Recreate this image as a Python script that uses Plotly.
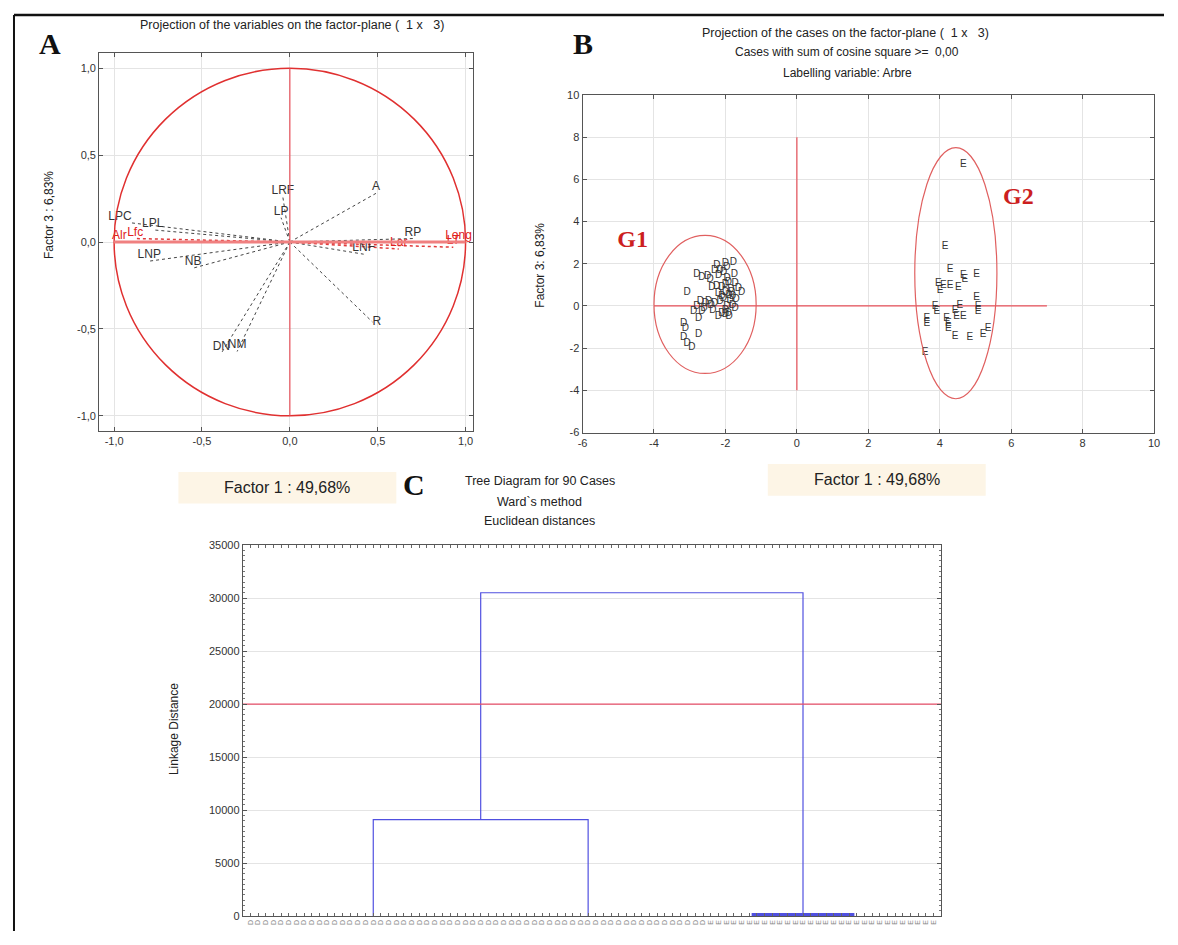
import plotly.graph_objects as go

# page body has an 8px margin, so the figure is sized to fit the window exactly
W, H = 1162, 929
OFF = 8

# ---------------- Panel A data (variable projections on factor plane 1x3) ----------------
var_names = ["A", "LRF", "LP", "LPC", "LPL", "LNP", "NB", "DN", "NM", "R", "RP", "LNF"]
var_f1 = [0.49, -0.04, -0.05, -0.90, -0.78, -0.80, -0.55, -0.39, -0.30, 0.47, 0.70, 0.42]
var_f3 = [0.28, 0.26, 0.14, 0.11, 0.07, -0.11, -0.15, -0.64, -0.63, -0.46, 0.02, -0.07]
var_pos = ["top center", "top center", "top center", "top left", "top center", "top center",
           "top center", "top center", "top center", "middle right", "top center", "top center"]

red_names = ["Alr", "Lfc", "Lar", "LT", "Long"]
red_f1 = [-0.97, -0.88, 0.62, 0.93, 0.96]
red_f3 = [0.00, 0.02, -0.04, -0.03, 0.00]

# ---------------- Panel B data (case projections) ----------------
D_f1 = [-3.07, -2.80, -2.66, -2.43, -2.24, -2.15, -1.96, -1.78, -2.19, -2.38, -2.10, -1.92,
        -1.73, -2.00, -1.83, -1.55, -1.64, -2.06, -1.87, -1.73, -1.96, -2.10, -1.92, -2.70,
        -2.56, -2.47, -2.80, -2.89, -2.66, -2.75, -3.17, -3.12, -2.75, -3.17, -3.07, -2.94,
        -2.00, -1.90, -2.20, -1.80, -2.00, -1.95, -2.30, -2.40, -2.60, -2.20, -1.85, -2.05,
        -1.70, -2.15, -1.90, -2.50, -2.30, -2.00, -1.75, -2.25, -2.10, -2.35, -2.00, -1.80]
D_f3 = [0.65, 1.51, 1.35, 1.27, 1.90, 1.66, 1.82, 2.05, 1.43, 0.89, 0.89, 1.12,
        1.04, 0.65, 0.65, 0.65, 0.81, 0.34, 0.26, -0.12, -0.05, -0.36, -0.36, 0.19,
        0.11, 0.19, -0.05, -0.28, -0.28, -0.59, -0.82, -1.06, -1.37, -1.52, -1.76, -1.99,
        1.00, 0.50, 0.60, 0.00, -0.20, 1.30, 0.10, 0.00, -0.10, -0.50, 0.80, 1.60,
        0.30, 0.20, -0.50, 1.40, 1.70, 2.00, 1.50, 0.90, 0.45, -0.20, -0.40, 0.45]
E_f1 = [4.66, 4.15, 4.29, 4.66, 5.03, 4.70, 3.96, 4.10, 4.29, 4.52, 4.01, 5.03, 3.87, 4.56, 5.07,
        3.92, 4.43, 5.07, 3.64, 4.19, 4.47, 4.66, 3.64, 4.24, 4.24, 5.35, 4.43, 4.84, 5.21, 3.59]
E_f3 = [6.71, 2.83, 1.74, 1.43, 1.51, 1.27, 1.04, 0.96, 0.96, 0.89, 0.73, 0.42, -0.05, 0.03, -0.05,
        -0.28, -0.20, -0.28, -0.59, -0.59, -0.51, -0.51, -0.82, -0.82, -1.06, -1.06, -1.45, -1.52, -1.37, -2.22]

group_names = ["G1", "G2"]
group_cx = [-2.57, 4.45]
group_cy = [0.07, 1.55]
group_rx = [1.43, 1.15]
group_ry = [3.27, 5.95]
group_label_f1 = [-4.6, 6.2]
group_label_f3 = [3.1, 5.1]

cross_h_f1 = [-4, 7]
cross_v_f3 = [-4, 8]

# ---------------- Panel C data (dendrogram) ----------------
n_cases = 90
leaf_labels = ["D"] * 60 + ["E"] * 30
link_left = [17, 31, 66.5]
link_right = [45, 73, 79.5]
link_left_h = [0, 9100, 0]
link_right_h = [0, 150, 0]
link_height = [9100, 30500, 150]
cut_height = 20000

fig = go.Figure()
FONT = "Liberation Sans, Arial, sans-serif"
SERIF = "Liberation Serif, Times New Roman, serif"


def PX(px):
    return (px - OFF) / W


def PY(py):
    return 1 - (py - OFF) / H


# ---- Panel A traces ----
for x, y in zip(var_f1, var_f3):
    fig.add_trace(go.Scatter(x=[0, x], y=[0, y], mode="lines", xaxis="x", yaxis="y",
                             line=dict(color="#444", width=1, dash="dot"),
                             showlegend=False, hoverinfo="skip"))
for x, y in zip(red_f1, red_f3):
    fig.add_trace(go.Scatter(x=[0, x], y=[0, y], mode="lines", xaxis="x", yaxis="y",
                             line=dict(color="#e03a3a", width=1.5, dash="dot"),
                             showlegend=False, hoverinfo="skip"))
fig.add_trace(go.Scatter(x=var_f1, y=var_f3, mode="text", text=var_names, textposition=var_pos,
                         xaxis="x", yaxis="y", textfont=dict(family=FONT, size=12, color="#333"),
                         showlegend=False, hoverinfo="skip"))
fig.add_trace(go.Scatter(x=red_f1, y=red_f3, mode="text", text=red_names, textposition="top center",
                         xaxis="x", yaxis="y", textfont=dict(family=FONT, size=12, color="#e02020"),
                         showlegend=False, hoverinfo="skip"))

# ---- Panel B traces ----
fig.add_trace(go.Scatter(x=cross_h_f1, y=[0, 0], mode="lines", xaxis="x2", yaxis="y2",
                         line=dict(color="#e8505a", width=1.2), showlegend=False, hoverinfo="skip"))
fig.add_trace(go.Scatter(x=[0, 0], y=cross_v_f3, mode="lines", xaxis="x2", yaxis="y2",
                         line=dict(color="#e8505a", width=1.2), showlegend=False, hoverinfo="skip"))
fig.add_trace(go.Scatter(x=D_f1, y=D_f3, mode="text", text=["D"] * len(D_f1), xaxis="x2", yaxis="y2",
                         textfont=dict(family=FONT, size=10, color="#333"), showlegend=False, hoverinfo="skip"))
fig.add_trace(go.Scatter(x=E_f1, y=E_f3, mode="text", text=["E"] * len(E_f1), xaxis="x2", yaxis="y2",
                         textfont=dict(family=FONT, size=10, color="#333"), showlegend=False, hoverinfo="skip"))
fig.add_trace(go.Scatter(x=group_label_f1, y=group_label_f3, mode="text", text=group_names,
                         xaxis="x2", yaxis="y2",
                         textfont=dict(family=SERIF, size=24, color="#cc1f1f", weight="bold"),
                         showlegend=False, hoverinfo="skip"))

# ---- Panel C traces ----
for l, r, hl, hr, h in zip(link_left, link_right, link_left_h, link_right_h, link_height):
    fig.add_trace(go.Scatter(x=[l, l, r, r], y=[hl, h, h, hr], mode="lines", xaxis="x3", yaxis="y3",
                             line=dict(color="#5050e0", width=1.2 if h > 1000 else 3),
                             showlegend=False, hoverinfo="skip"))
fig.add_trace(go.Scatter(x=[0, n_cases + 1], y=[cut_height, cut_height], mode="lines", xaxis="x3", yaxis="y3",
                         line=dict(color="#e8506a", width=1.2), showlegend=False, hoverinfo="skip"))

# ---- Shapes ----
shapes = []
shapes.append(dict(type="circle", xref="x", yref="y", x0=-1, y0=-1, x1=1, y1=1,
                   line=dict(color="#e03030", width=1.5)))
shapes.append(dict(type="line", xref="x", yref="y", x0=0, y0=-1, x1=0, y1=1,
                   line=dict(color="#e8505a", width=1.2)))
shapes.append(dict(type="line", xref="x", yref="y", x0=-1, y0=0, x1=1, y1=0,
                   line=dict(color="#f08080", width=3)))
for cx, cy, rx, ry in zip(group_cx, group_cy, group_rx, group_ry):
    shapes.append(dict(type="circle", xref="x2", yref="y2", x0=cx - rx, x1=cx + rx, y0=cy - ry, y1=cy + ry,
                       line=dict(color="#e06060", width=1.2)))
# outer frame of the figure
shapes.append(dict(type="line", xref="paper", yref="paper", x0=PX(9), x1=1, y0=PY(9), y1=PY(9),
                   line=dict(color="#111", width=2.5)))
shapes.append(dict(type="line", xref="paper", yref="paper", x0=PX(9), x1=PX(9), y0=0, y1=PY(9),
                   line=dict(color="#111", width=2)))
# Factor 1 label boxes
for cxp, cyp in [(285, 488), (880, 480)]:
    shapes.append(dict(type="rect", xref="paper", yref="paper", layer="below",
                       x0=PX(cxp - 110), x1=PX(cxp + 110), y0=PY(cyp + 16), y1=PY(cyp - 16),
                       fillcolor="#fdf5e6", line=dict(width=0)))

ann = []


def A(text, px, py, size=12, family=FONT, color="#222", angle=0, weight=None):
    f = dict(family=family, size=size, color=color)
    if weight:
        f["weight"] = weight
    ann.append(dict(text=text, x=PX(px), y=PY(py), xref="paper", yref="paper", showarrow=False,
                    font=f, textangle=angle, xanchor="center", yanchor="middle"))


A("A", 45, 38, size=30, family=SERIF, color="#111", weight="bold")
A("B", 583, 38, size=30, family=SERIF, color="#111", weight="bold")
A("C", 413, 485, size=30, family=SERIF, color="#111", weight="bold")
A("Projection of the variables on the factor-plane (  1 x   3)", 290, 19, size=12.5)
A("Projection of the cases on the factor-plane (  1 x   3)", 848, 27, size=12.5)
A("Cases with sum of cosine square >=  0,00", 850, 47, size=12)
A("Labelling variable: Arbre", 850, 68, size=12)
A("Tree Diagram for 90 Cases", 540, 481, size=12.5)
A("Ward`s method", 540, 502, size=12.5)
A("Euclidean distances", 540, 522, size=12.5)
A("Factor 3 : 6,83%", 45, 212, size=12, angle=-90)
A("Factor 3: 6,83%", 540, 262, size=12, angle=-90)
A("Linkage Distance", 170, 732, size=12, angle=-90)
A("Factor 1 : 49,68%", 285, 488, size=16)
A("Factor 1 : 49,68%", 880, 480, size=16)

axis_common = dict(showline=True, linecolor="#555", linewidth=1, mirror="allticks", ticks="inside",
                   ticklen=4, tickcolor="#555", showgrid=True, gridcolor="#e4e4e4", zeroline=False,
                   tickfont=dict(family=FONT, size=11, color="#333"))

ticksA = [-1.0, -0.5, 0.0, 0.5, 1.0]
ticksA_txt = ["-1,0", "-0,5", "0,0", "0,5", "1,0"]
ticksB = list(range(-6, 11, 2))
ticksB_txt = [str(v) for v in ticksB]
ticksC = list(range(0, 35001, 5000))

fig.update_layout(
    width=W, height=H, margin=dict(l=0, r=0, t=0, b=0),
    paper_bgcolor="white", plot_bgcolor="white", showlegend=False,
    font=dict(family=FONT, size=11, color="#333"),
    xaxis=dict(domain=[PX(95), PX(472)], range=[-1.085, 1.04], tickvals=ticksA, ticktext=ticksA_txt,
               anchor="y", **axis_common),
    yaxis=dict(domain=[PY(430), PY(48)], range=[-1.085, 1.085], tickvals=ticksA, ticktext=ticksA_txt,
               anchor="x", **axis_common),
    xaxis2=dict(domain=[PX(583), PX(1160)], range=[-6, 10], tickvals=ticksB, ticktext=ticksB_txt,
                anchor="y2", **axis_common),
    yaxis2=dict(domain=[PY(432), PY(90)], range=[-6, 10], tickvals=ticksB, ticktext=ticksB_txt,
                anchor="x2", **axis_common),
    xaxis3=dict(domain=[PX(240), PX(945)], range=[0, n_cases + 1], tickvals=list(range(1, n_cases + 1)),
                ticktext=leaf_labels, tickangle=-90, anchor="y3", showline=True, linecolor="#555",
                mirror="allticks", ticks="inside", ticklen=3, tickcolor="#666", showgrid=False, zeroline=False,
                tickfont=dict(family=FONT, size=7, color="#888")),
    yaxis3=dict(domain=[PY(922), PY(546)], range=[0, 35000], tickvals=ticksC,
                ticktext=[str(v) for v in ticksC], anchor="x3", showline=True, linecolor="#555",
                mirror="allticks", ticks="inside", ticklen=4, tickcolor="#555", showgrid=True,
                gridcolor="#e4e4e4", zeroline=False, tickfont=dict(family=FONT, size=11, color="#333"),
                minor=dict(ticks="inside", ticklen=2, tickcolor="#777", dtick=500, showgrid=False)),
    shapes=shapes, annotations=ann,
)

fig.write_html("out.html")
